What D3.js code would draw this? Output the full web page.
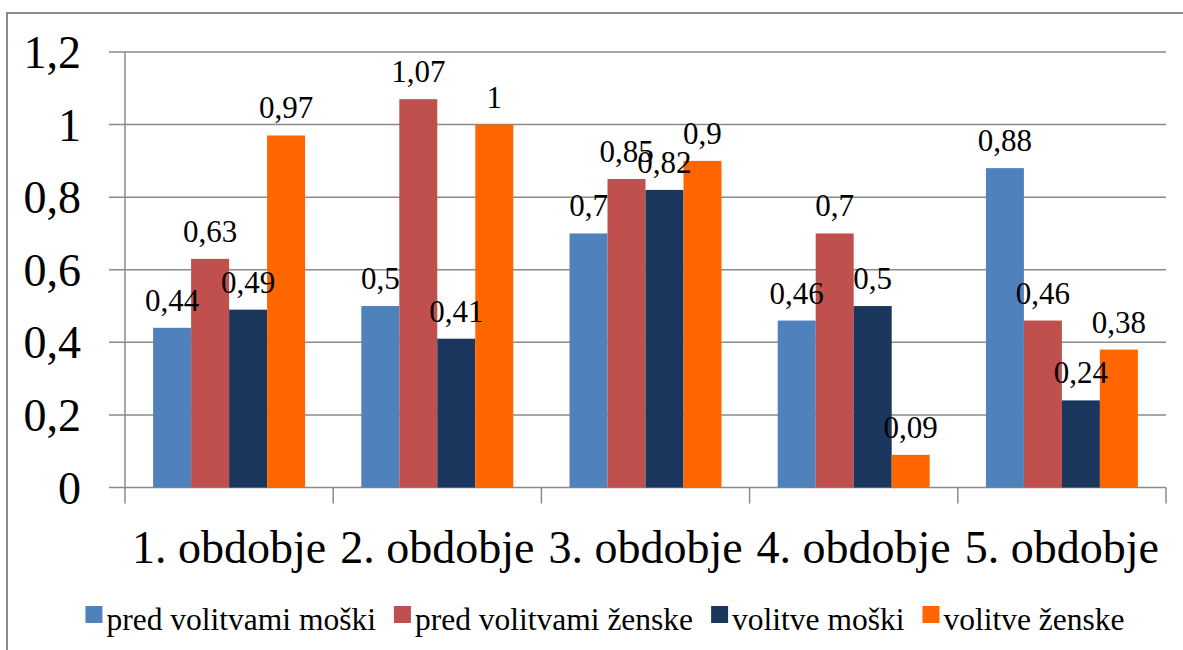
<!DOCTYPE html>
<html>
<head>
<meta charset="utf-8">
<script src="https://cdn.jsdelivr.net/npm/d3@7"></script>
</head>
<body style="margin:0; font-family: 'Liberation Serif';">
<svg id="fig" width="1183" height="650" style="display:block; font-family: 'Liberation Serif';"></svg>
<script>
const categories = ["1. obdobje", "2. obdobje", "3. obdobje", "4. obdobje", "5. obdobje"];
const seriesNames = ["pred volitvami moški", "pred volitvami ženske", "volitve moški", "volitve ženske"];
const predMoski = [0.44, 0.5, 0.7, 0.46, 0.88];
const predZenske = [0.63, 1.07, 0.85, 0.7, 0.46];
const volitveMoski = [0.49, 0.41, 0.82, 0.5, 0.24];
const volitveZenske = [0.97, 1, 0.9, 0.09, 0.38];
const yTickValues = [0, 0.2, 0.4, 0.6, 0.8, 1, 1.2];
const yTickLabels = ["0", "0,2", "0,4", "0,6", "0,8", "1", "1,2"];
const seriesColors = ["#4F81BD", "#C0504D", "#1B365D", "#FF6600"];

const seriesValues = [predMoski, predZenske, volitveMoski, volitveZenske];

const FONT = '"Liberation Serif"';
const svg = d3.select("#fig");
const gridColor = "#8a8a8a";

// outer border
svg.append("rect")
  .attr("x", 7).attr("y", 13)
  .attr("width", 1200).attr("height", 660)
  .attr("fill", "none").attr("stroke", "#8a8a8a").attr("stroke-width", 2);

const plot = { left: 125, right: 1166, top: 52, bottom: 487.5 };

const x = d3.scaleBand().domain(categories).range([plot.left, plot.right]).padding(0);
const xInner = d3.scaleBand().domain(seriesNames).range([0, x.bandwidth()])
  .paddingInner(0).paddingOuter(0.74);
const y = d3.scaleLinear().domain([0, 1.2]).range([plot.bottom, plot.top]);

// gridlines (with left tick extension)
svg.append("g").selectAll("line").data(yTickValues).join("line")
  .attr("x1", plot.left - 16).attr("x2", plot.right)
  .attr("y1", d => y(d)).attr("y2", d => y(d))
  .attr("stroke", gridColor).attr("stroke-width", 1.5);

// y axis line
svg.append("line")
  .attr("x1", plot.left).attr("x2", plot.left)
  .attr("y1", y(1.2)).attr("y2", plot.bottom + 16)
  .attr("stroke", gridColor).attr("stroke-width", 1.5);

// category tick marks
svg.append("g").selectAll("line").data(categories).join("line")
  .attr("x1", d => x(d) + x.bandwidth()).attr("x2", d => x(d) + x.bandwidth())
  .attr("y1", plot.bottom).attr("y2", plot.bottom + 16)
  .attr("stroke", gridColor).attr("stroke-width", 1.5);

// y tick labels
svg.append("g").selectAll("text").data(yTickValues).join("text")
  .attr("x", 81).attr("y", d => y(d) + 16)
  .attr("text-anchor", "end")
  .attr("font-size", 46)
  .style("font-family", FONT)
  .text((d, i) => yTickLabels[i]);

// bars
const flat = [];
categories.forEach((c, ci) => {
  seriesNames.forEach((s, si) => {
    flat.push({ c, s, si, v: seriesValues[si][ci] });
  });
});

svg.append("g").selectAll("rect").data(flat).join("rect")
  .attr("x", d => x(d.c) + xInner(d.s))
  .attr("width", xInner.bandwidth())
  .attr("y", d => y(d.v))
  .attr("height", d => y(0) - y(d.v))
  .attr("fill", d => seriesColors[d.si]);

// data labels
svg.append("g").selectAll("text").data(flat).join("text")
  .attr("x", d => x(d.c) + xInner(d.s) + xInner.bandwidth() / 2)
  .attr("y", d => y(d.v) - 17)
  .attr("text-anchor", "middle")
  .attr("font-size", 31)
  .style("font-family", FONT)
  .text(d => String(d.v).replace(".", ","));

// category labels
svg.append("g").selectAll("text").data(categories).join("text")
  .attr("x", d => x(d) + x.bandwidth() / 2)
  .attr("y", 563)
  .attr("text-anchor", "middle")
  .attr("font-size", 46)
  .style("font-family", FONT)
  .text(d => d);

// legend
const legend = svg.append("g");
const items = legend.selectAll("g").data(seriesNames).join("g");
items.append("rect")
  .attr("width", 17).attr("height", 17).attr("y", -24)
  .attr("fill", (d, i) => seriesColors[i]);
items.append("text")
  .attr("x", 21).attr("y", 0)
  .attr("font-size", 31.5)
  .style("font-family", FONT)
  .text(d => d);
let cx = 0;
const widths = [];
items.each(function () {
  const w = 21 + this.querySelector("text").getComputedTextLength();
  widths.push(w);
});
const gap = 18;
const total = d3.sum(widths) + gap * (widths.length - 1);
cx = 605 - total / 2;
items.attr("transform", (d, i) => {
  const t = `translate(${cx},630)`;
  cx += widths[i] + gap;
  return t;
});
</script>
</body>
</html>
